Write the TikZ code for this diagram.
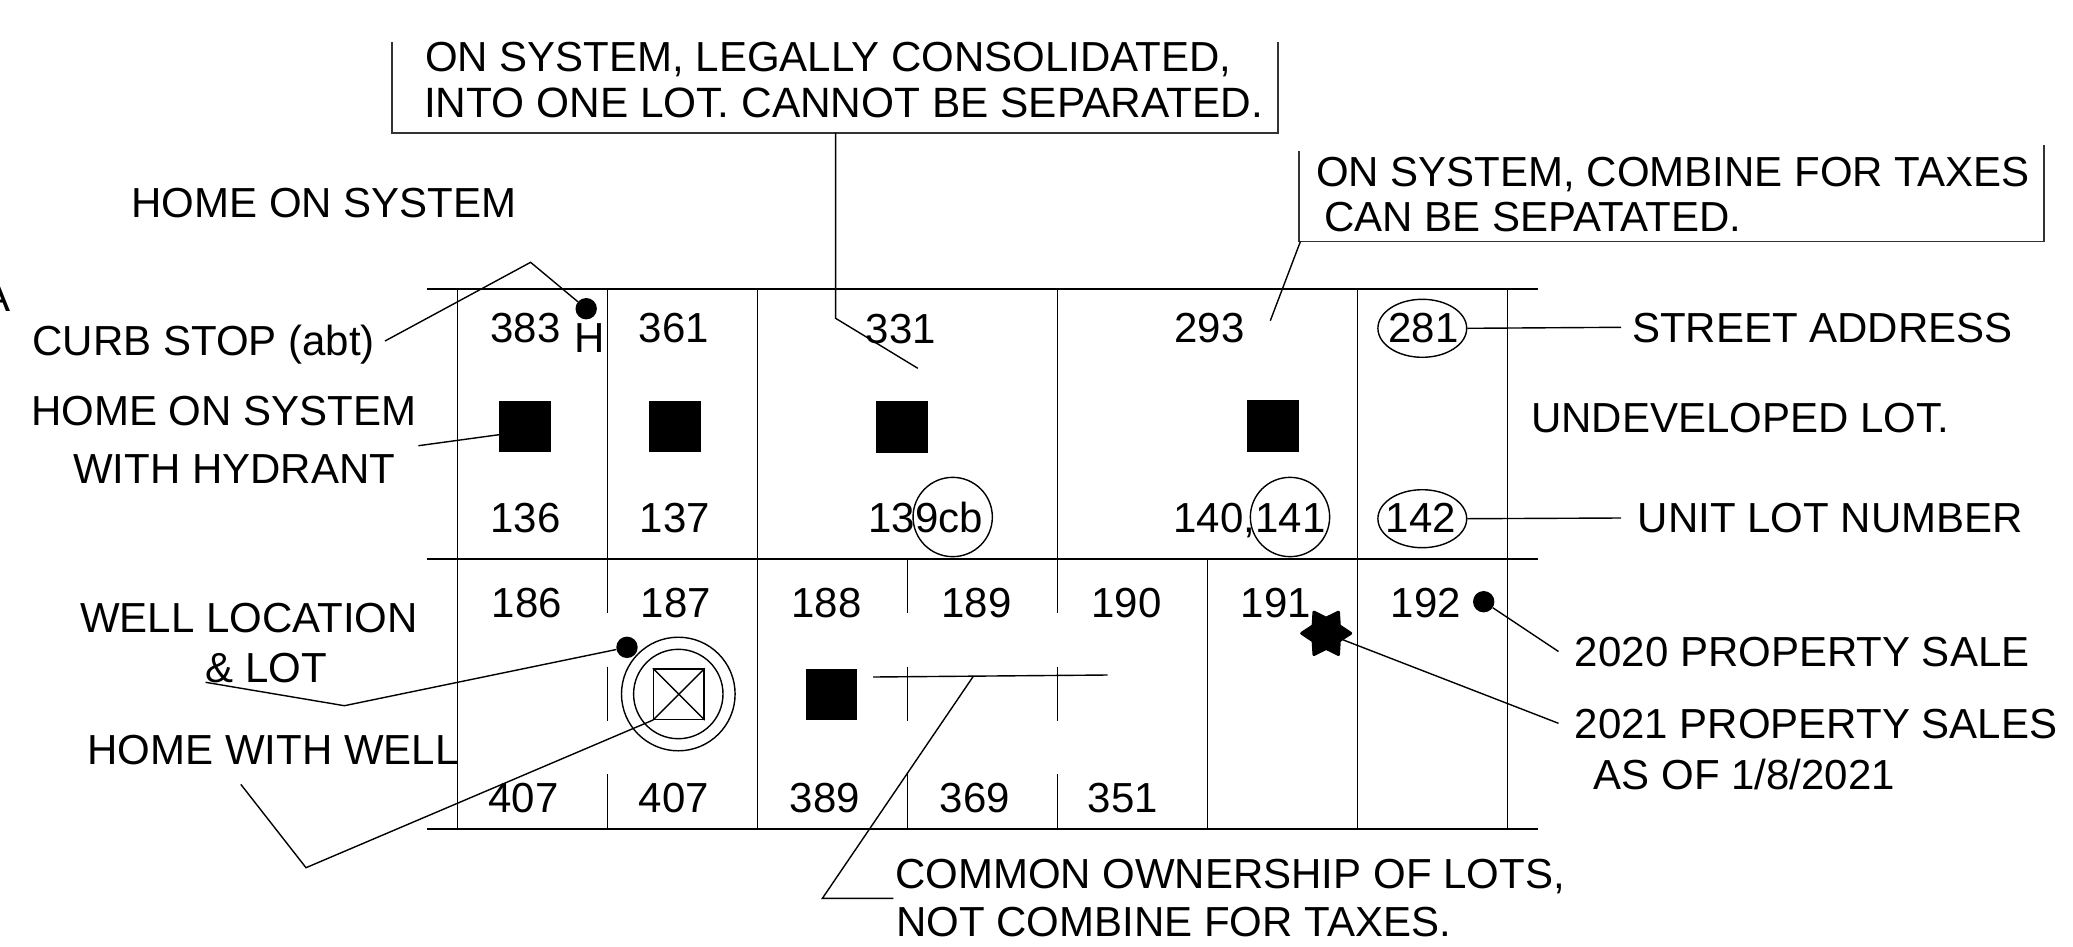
\documentclass[tikz,border=0pt]{standalone}
\usepackage{fontspec}
\setmainfont{Liberation Sans}
\usetikzlibrary{shapes.geometric}
\tikzset{
  lbl/.style={inner sep=0pt,outer sep=0pt,anchor=base,yshift=-1pt,font=\fontsize{42}{48}\selectfont},
  house/.style={fill=black,draw=none,inner sep=0pt,minimum width=51.5pt,minimum height=51.6pt},
  dotmark/.style={circle,fill=black,draw=none,inner sep=0pt,minimum size=21.4pt},
  ringa/.style={ellipse,draw=black,line width=1.4pt,inner sep=0pt,minimum width=88.8pt,minimum height=58pt},
  ringb/.style={circle,draw=black,line width=1.4pt,inner sep=0pt,minimum size=79.3pt},
  leader/.style={draw=black,line width=1.4pt},
  lotline/.style={draw=black,line width=1.5pt},
  road/.style={draw=black,line width=2pt},
  frameline/.style={draw=black!80,line width=2pt}
}
\begin{document}
\begin{tikzpicture}[x=1pt,y=-1pt]
\useasboundingbox (0,0) rectangle (2073,946);
% street lines
\foreach \yy in {288.7,559,828.8} \draw[road] (427,\yy) -- (1537.8,\yy);
% full height lot lines
\foreach \xx in {457.6,607.6,757.6,1057.6,1357.6,1507.6} \draw[lotline] (\xx,288.7) -- (\xx,559);
\foreach \xx in {457.6,757.6,1207.6,1357.6,1507.6} \draw[lotline] (\xx,559) -- (\xx,828.8);
% broken lot lines
\foreach \xx in {607.6,907.6,1057.6} {
  \draw[lotline] (\xx,559) -- (\xx,612.7);
  \draw[lotline] (\xx,666.7) -- (\xx,720.7);
  \draw[lotline] (\xx,774) -- (\xx,828.8);
}
% lot texts
\node[lbl] (t383) at (525.5,341.7) {383};
\node[lbl] (tH) at (589.3,351.7) {H};
\node[lbl] (t361) at (674,341.7) {361};
\node[lbl] (t331) at (901,342.7) {331};
\node[lbl] (t293) at (1209.6,341.7) {293};
\node[lbl] (t281) at (1423.5,341.7) {281};
\node[lbl] (t136) at (525.5,531.4) {136};
\node[lbl] (t137) at (675,531.4) {137};
\node[lbl] (t139) at (925.6,531.7) {139cb};
\node[lbl] (t140) at (1249.5,531.7) {140,141};
\node[lbl] (t142) at (1421,531.4) {142};
\node[lbl] (t186) at (526.8,616.7) {186};
\node[lbl] (t187) at (676,616.7) {187};
\node[lbl] (t188) at (826.6,616.7) {188};
\node[lbl] (t189) at (976.5,616.7) {189};
\node[lbl] (t190) at (1126.5,616.7) {190};
\node[lbl] (t191) at (1275.8,616.7) {191};
\node[lbl] (t192) at (1426,616.7) {192};
\node[lbl] (t407a) at (523.5,811.7) {407};
\node[lbl] (t407b) at (674,811.7) {407};
\node[lbl] (t389) at (825,811.7) {389};
\node[lbl] (t369) at (975,811.7) {369};
\node[lbl] (t351) at (1122.7,811.7) {351};
% callout texts
\node[lbl] (a) at (-3.3,310) {A};
\node[lbl] (homesys) at (324,216) {HOME ON SYSTEM};
\node[lbl] (curb) at (203.8,354) {CURB STOP (abt)};
\node[lbl] (homehyd) at (223.8,424.3) {HOME ON SYSTEM};
\node[lbl] (hydrant) at (234.2,482.3) {WITH HYDRANT};
\node[lbl] (welllocation) at (249,631.7) {WELL LOCATION};
\node[lbl] (welllot) at (266.5,681.7) {\& LOT};
\node[lbl] (homewell) at (273,763.3) {HOME WITH WELL};
\node[lbl] (legala) at (828,70.7) {ON SYSTEM, LEGALLY CONSOLIDATED,};
\node[lbl,font=\fontsize{42.4}{48}\selectfont] (legalb) at (843.5,116) {INTO ONE LOT. CANNOT BE SEPARATED.};
\node[lbl] (combinea) at (1672.8,185) {ON SYSTEM, COMBINE FOR TAXES};
\node[lbl] (combineb) at (1533,230) {CAN BE SEPATATED.};
\node[lbl] (street) at (1822.5,341) {STREET ADDRESS};
\node[lbl] (undev) at (1740.2,431.7) {UNDEVELOPED LOT.};
\node[lbl] (unit) at (1830.2,531.7) {UNIT LOT NUMBER};
\node[lbl] (sale20) at (1802.2,665) {2020 PROPERTY SALE};
\node[lbl] (sale21) at (1816.1,737.7) {2021 PROPERTY SALES};
\node[lbl] (asof) at (1744.4,788.3) {AS OF 1/8/2021};
\node[lbl] (commona) at (1229.9,887.7) {COMMON OWNERSHIP OF LOTS,};
\node[lbl] (commonb) at (1173.5,935.7) {NOT COMBINE FOR TAXES.};
% houses
\node[house] (h136) at (524.8,426.3) {};
\node[house] (h137) at (674.8,426.3) {};
\node[house] (h139) at (902.2,427.1) {};
\node[house] (h141) at (1272.9,426.1) {};
\node[house] (h188) at (831.7,694.3) {};
% dots
\node[dotmark] (dcurb) at (586.2,308.7) {};
\node[dotmark] (dwell) at (627,647.3) {};
\node[dotmark] (dsale) at (1483.7,601.7) {};
\node[star,star points=6,star point ratio=1.62,fill=black,draw=black,line join=round,line width=3pt,inner sep=0pt,minimum size=49pt,shape border rotate=30] (dstar) at (1326.2,633.3) {};
% rings
\node[ringa] (r281) at (1422.3,328.3) {};
\node[ringa] (r142) at (1422.3,518.7) {};
\node[ringb] (r139) at (952.7,517) {};
\node[ringb] (r141) at (1290,517) {};
% well
\node[circle,draw=black,line width=1.4pt,inner sep=0pt,minimum size=113.6pt] (wouter) at (678.3,694) {};
\node[circle,draw=black,line width=1.4pt,inner sep=0pt,minimum size=89.4pt] (winner) at (678.3,694) {};
\node[draw=black,line width=1.5pt,inner sep=0pt,minimum size=50.3pt] (wsq) at (678.8,694.2) {};
\draw[leader] (wsq.north west) -- (wsq.south east) (wsq.north east) -- (wsq.south west);
% framing lines of the two notes
\coordinate (fa1) at (392.3,42);
\coordinate (fa2) at (392.3,132.7);
\coordinate (fa3) at (1277.5,132.7);
\coordinate (fa4) at (1277.5,42);
\draw[frameline] (fa1) -- (fa2) -- (fa3) -- (fa4);
\coordinate (fb1) at (1298.9,150.7);
\coordinate (fb2) at (1298.9,241.5);
\coordinate (fb3) at (2043.8,241.5);
\coordinate (fb4) at (2043.8,145);
\draw[frameline,line width=1.6pt] (fb1) -- (fb2) -- (fb3) -- (fb4);
% leaders
\coordinate (la1) at (835.6,132.7);
\coordinate (la2) at (835.6,318.3);
\coordinate (la3) at (917.8,368.3);
\draw[leader] (la1) -- (la2) -- (la3);
\coordinate (lb1) at (1300.4,241.5);
\coordinate (lb2) at (1270.3,320.7);
\draw[leader] (lb1) -- (lb2);
\coordinate (lc1) at (385,341);
\coordinate (lc2) at (530.6,262.3);
\draw[leader] (lc1) -- (lc2) -- (dcurb);
\coordinate (ld1) at (418.4,445.7);
\coordinate (ld2) at (499,434.7);
\draw[leader] (ld1) -- (ld2);
\coordinate (le1) at (205.6,682.3);
\coordinate (le2) at (344.4,705.7);
\draw[leader] (le1) -- (le2) -- (dwell);
\coordinate (lf1) at (240.8,784.3);
\coordinate (lf2) at (306,867.7);
\draw[leader] (lf1) -- (lf2) -- (wsq.south west);
\coordinate (lg1) at (873,677);
\coordinate (lg2) at (1107.7,675);
\draw[leader] (lg1) -- (lg2);
\coordinate (lg3) at (973.5,676);
\coordinate (lg4) at (822.4,898.3);
\coordinate (lg5) at (893.4,898.3);
\draw[leader] (lg3) -- (lg4) -- (lg5);
\coordinate (lh1) at (1621,327.3);
\draw[leader] (r281.east) -- (lh1);
\coordinate (li1) at (1621,518);
\draw[leader] (r142.east) -- (li1);
\coordinate (lj1) at (1558.5,651.5);
\draw[leader] (dsale) -- (lj1);
\coordinate (lk1) at (1558.5,723.3);
\draw[leader] (dstar) -- (lk1);
\end{tikzpicture}
\end{document}
